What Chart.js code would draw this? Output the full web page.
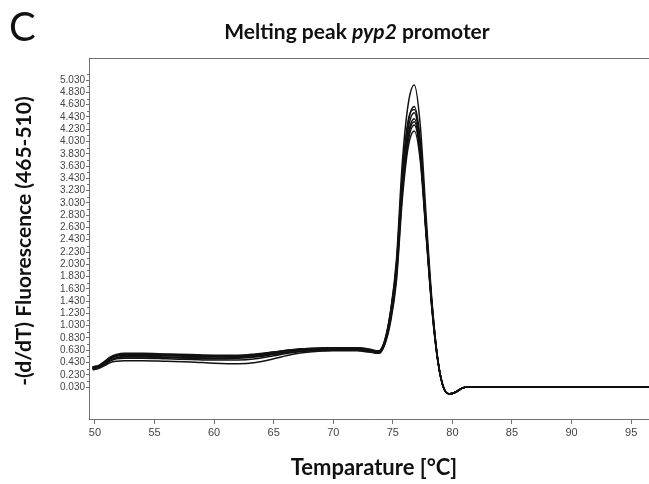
<!DOCTYPE html>
<html>
<head>
<meta charset="utf-8">
<script src="https://cdn.jsdelivr.net/npm/chart.js@4.4.1/dist/chart.umd.min.js"></script>
<style>
	body { margin: 0; background: #fff; }
	#wrap { position: relative; width: 649px; height: 484px; overflow: hidden; font-family: Lato, "Noto Sans", sans-serif; }
	#grafica { position: absolute; left: 0; top: 0; }
	.letra { position: absolute; left: 9px; top: 2px; font-size: 40px; color: #111; }
	.titulo { position: absolute; left: 0; width: 714px; top: 18px; text-align: center; font-size: 21px; font-weight: bold; color: #111; }
	.tituloY { position: absolute; left: 22px; top: 241px; transform: translate(-50%, -50%) rotate(-90deg); white-space: nowrap; font-size: 21px; font-weight: bold; color: #111; }
	.tituloX { position: absolute; left: 374px; top: 466px; transform: translate(-50%, -50%); white-space: nowrap; font-size: 22px; font-weight: bold; color: #111; }
</style>
</head>
<body>
<div id="wrap">
	<canvas id="grafica" width="649" height="484"></canvas>
	<div class="letra">C</div>
	<div class="titulo">Melting peak <i>pyp2</i> promoter</div>
	<div class="tituloY">-(d/dT) Fluorescence (465-510)</div>
	<div class="tituloX">Temparature [°C]</div>
</div>
<script>
/* Datos */
const temperaturas = [49.8, 50.3, 50.8, 51.3, 51.8, 52.5, 54, 56, 58, 60, 62, 63.5, 65, 66.5, 68, 70, 72, 73, 73.8, 74.3, 74.8, 75.3, 75.8, 76.3, 76.8, 77.3, 77.8, 78.3, 78.8, 79.3, 79.8, 80.3, 80.8, 81.3, 88, 96.5];

const muestraA = [0.33, 0.35, 0.40, 0.46, 0.50, 0.52, 0.52, 0.51, 0.50, 0.49, 0.50, 0.52, 0.56, 0.60, 0.62, 0.63, 0.63, 0.61, 0.58, 0.74, 1.25, 2.10, 3.70, 4.65, 4.95, 4.30, 2.80, 1.40, 0.45, 0.00, -0.08, -0.05, 0.01, 0.03, 0.03, 0.03];
const muestraB = [0.36, 0.38, 0.45, 0.52, 0.56, 0.58, 0.58, 0.57, 0.56, 0.55, 0.55, 0.57, 0.60, 0.64, 0.66, 0.67, 0.67, 0.65, 0.62, 0.77, 1.22, 1.98, 3.45, 4.35, 4.60, 4.05, 2.65, 1.35, 0.44, 0.00, -0.08, -0.05, 0.01, 0.03, 0.03, 0.03];
const muestraC = [0.34, 0.36, 0.42, 0.49, 0.53, 0.55, 0.55, 0.54, 0.53, 0.52, 0.52, 0.54, 0.58, 0.62, 0.64, 0.65, 0.65, 0.63, 0.60, 0.76, 1.20, 1.95, 3.40, 4.25, 4.50, 3.95, 2.60, 1.32, 0.44, 0.00, -0.08, -0.05, 0.01, 0.03, 0.03, 0.03];
const muestraD = [0.31, 0.33, 0.38, 0.43, 0.45, 0.46, 0.46, 0.45, 0.44, 0.42, 0.41, 0.43, 0.49, 0.56, 0.60, 0.62, 0.62, 0.60, 0.58, 0.72, 1.15, 1.90, 3.30, 4.15, 4.40, 3.90, 2.55, 1.30, 0.43, 0.00, -0.08, -0.05, 0.01, 0.03, 0.03, 0.03];
const muestraE = [0.35, 0.37, 0.43, 0.50, 0.54, 0.56, 0.56, 0.55, 0.54, 0.53, 0.53, 0.55, 0.59, 0.63, 0.65, 0.66, 0.66, 0.64, 0.61, 0.74, 1.15, 1.88, 3.30, 4.12, 4.35, 3.85, 2.55, 1.30, 0.43, 0.00, -0.08, -0.05, 0.01, 0.03, 0.03, 0.03];
const muestraF = [0.33, 0.35, 0.41, 0.47, 0.51, 0.53, 0.53, 0.52, 0.51, 0.50, 0.51, 0.53, 0.57, 0.61, 0.63, 0.64, 0.64, 0.62, 0.59, 0.73, 1.12, 1.82, 3.20, 4.05, 4.30, 3.80, 2.52, 1.28, 0.42, 0.00, -0.08, -0.05, 0.01, 0.03, 0.03, 0.03];
const muestraG = [0.34, 0.36, 0.41, 0.46, 0.49, 0.50, 0.50, 0.49, 0.48, 0.47, 0.47, 0.49, 0.54, 0.59, 0.62, 0.63, 0.63, 0.61, 0.58, 0.71, 1.08, 1.75, 3.10, 3.95, 4.20, 3.72, 2.48, 1.25, 0.42, 0.00, -0.08, -0.05, 0.01, 0.03, 0.03, 0.03];
const muestraH = [0.36, 0.38, 0.44, 0.51, 0.55, 0.57, 0.57, 0.56, 0.55, 0.54, 0.54, 0.56, 0.60, 0.64, 0.66, 0.67, 0.67, 0.64, 0.61, 0.78, 1.25, 2.02, 3.50, 4.38, 4.55, 4.00, 2.62, 1.33, 0.44, 0.00, -0.08, -0.05, 0.01, 0.03, 0.03, 0.03];

const muestras = [muestraA, muestraB, muestraC, muestraD, muestraE, muestraF, muestraG, muestraH];

const ticksX = [50, 55, 60, 65, 70, 75, 80, 85, 90, 95];
const ticksY = [0.03, 0.23, 0.43, 0.63, 0.83, 1.03, 1.23, 1.43, 1.63, 1.83, 2.03, 2.23, 2.43, 2.63, 2.83, 3.03, 3.23, 3.43, 3.63, 3.83, 4.03, 4.23, 4.43, 4.63, 4.83, 5.03];

const colorEje = "#707070";

/* marcas menores del eje y y borde superior */
const marcasMenores = {
	id: "marcasMenores",
	afterDraw(chart) {
		const c = chart.ctx;
		const y = chart.scales.y;
		const area = chart.chartArea;
		c.save();
		c.strokeStyle = colorEje;
		c.lineWidth = 1;
		c.beginPath();
		ticksY.forEach((v) => {
			const py = Math.round(y.getPixelForValue(v + 0.1)) + 0.5;
			if (py > area.top) {
				c.moveTo(area.left - 2, py);
				c.lineTo(area.left, py);
			}
		});
		c.moveTo(area.left, area.top + 0.5);
		c.lineTo(area.right, area.top + 0.5);
		c.stroke();
		c.restore();
	},
};

const ctx = document.getElementById("grafica").getContext("2d");

new Chart(ctx, {
	type: "line",
	data: {
		datasets: muestras.map((serie) => ({
			data: serie.map((v, i) => ({ x: temperaturas[i], y: v })),
			borderColor: "#111",
			borderWidth: 1.5,
			pointRadius: 0,
			fill: false,
			cubicInterpolationMode: "monotone",
		})),
	},
	options: {
		responsive: false,
		animation: false,
		layout: { padding: { top: 58, left: 0, right: 0, bottom: 0 } },
		plugins: {
			legend: { display: false },
			tooltip: { enabled: false },
		},
		scales: {
			x: {
				type: "linear",
				min: 49.5,
				max: 96.5,
				afterBuildTicks: (scale) => {
					scale.ticks = ticksX.map((v) => ({ value: v }));
				},
				afterFit: (scale) => {
					scale.height = 65;
				},
				ticks: {
					color: "#444",
					padding: 2,
					maxRotation: 0,
					autoSkip: false,
					font: { family: "'Liberation Sans Narrow', 'Liberation Sans', sans-serif", size: 11 },
				},
				grid: { drawOnChartArea: false, tickLength: 5, color: colorEje },
				border: { color: colorEje },
			},
			y: {
				type: "linear",
				min: -0.49,
				max: 5.39,
				afterBuildTicks: (scale) => {
					scale.ticks = ticksY.map((v) => ({ value: v }));
				},
				afterFit: (scale) => {
					scale.width = 89;
				},
				ticks: {
					color: "#444",
					padding: 1,
					autoSkip: false,
					callback: (v) => v.toFixed(3),
					font: { family: "'Liberation Sans Narrow', 'Liberation Sans', sans-serif", size: 10 },
				},
				grid: { drawOnChartArea: false, tickLength: 3, color: colorEje },
				border: { color: colorEje },
			},
		},
	},
	plugins: [marcasMenores],
});
</script>
</body>
</html>
